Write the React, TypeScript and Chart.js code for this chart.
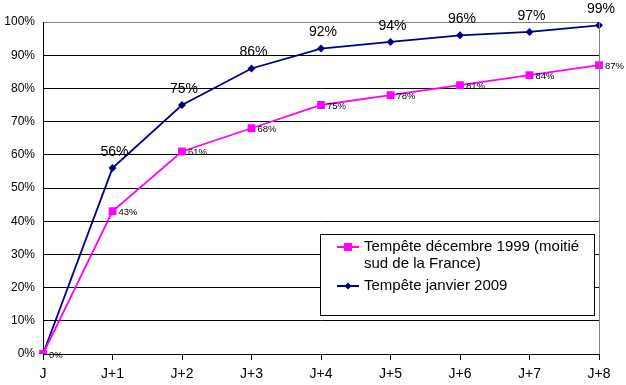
import React, { useEffect, useRef } from "react";
import { Chart, registerables } from "chart.js";

Chart.register(...registerables);

const categories = ["J", "J+1", "J+2", "J+3", "J+4", "J+5", "J+6", "J+7", "J+8"];
const storm1999 = [0, 43, 61, 68, 75, 78, 81, 84, 87];
const storm2009 = [0, 56, 75, 86, 92, 94, 96, 97, 99];
const legend1999 = ["Tempête décembre 1999 (moitié", "sud de la France)"];
const legend2009 = "Tempête janvier 2009";

const PINK = "#FF00FF";
const NAVY = "#000080";
const FONT = "'Liberation Sans', Arial, sans-serif";

const labelsPlugin = {
  id: "customLabels",
  afterDatasetsDraw(chart: any) {
    const ctx = chart.ctx;
    ctx.save();
    const m0 = chart.getDatasetMeta(0);
    ctx.fillStyle = "#000";
    ctx.font = `9.5px ${FONT}`;
    ctx.textAlign = "left";
    ctx.textBaseline = "middle";
    m0.data.forEach((p: any, i: number) => {
      ctx.fillText(storm1999[i] + "%", p.x + 6, p.y + 1);
    });
    const m1 = chart.getDatasetMeta(1);
    ctx.font = `14px ${FONT}`;
    ctx.textAlign = "center";
    m1.data.forEach((p: any, i: number) => {
      if (i === 0) return;
      ctx.fillText(storm2009[i] + "%", p.x + 2, p.y - 16);
    });
    ctx.restore();
  },
  afterDraw(chart: any) {
    const ctx = chart.ctx;
    const a = chart.chartArea;
    ctx.save();
    ctx.strokeStyle = "#808080";
    ctx.lineWidth = 1;
    ctx.beginPath();
    ctx.moveTo(Math.round(a.right) + 0.5, a.top);
    ctx.lineTo(Math.round(a.right) + 0.5, a.bottom);
    ctx.stroke();
    const bx = 320.5, by = 234.5, bw = 274, bh = 81;
    ctx.fillStyle = "#fff";
    ctx.fillRect(bx, by, bw, bh);
    ctx.strokeStyle = "#000";
    ctx.strokeRect(bx, by, bw, bh);
    ctx.font = `15px ${FONT}`;
    ctx.fillStyle = "#000";
    ctx.textAlign = "left";
    ctx.textBaseline = "middle";
    ctx.strokeStyle = PINK;
    ctx.lineWidth = 2;
    ctx.beginPath();
    ctx.moveTo(337, 247);
    ctx.lineTo(359, 247);
    ctx.stroke();
    ctx.fillStyle = PINK;
    ctx.fillRect(344, 243, 8, 8);
    ctx.fillStyle = "#000";
    ctx.fillText(legend1999[0], 364, 247);
    ctx.fillText(legend1999[1], 364, 264);
    ctx.strokeStyle = NAVY;
    ctx.beginPath();
    ctx.moveTo(337, 286);
    ctx.lineTo(359, 286);
    ctx.stroke();
    ctx.fillStyle = NAVY;
    ctx.beginPath();
    ctx.moveTo(348, 282.5);
    ctx.lineTo(351.5, 286);
    ctx.lineTo(348, 289.5);
    ctx.lineTo(344.5, 286);
    ctx.closePath();
    ctx.fill();
    ctx.fillStyle = "#000";
    ctx.fillText(legend2009, 364, 286);
    ctx.restore();
  },
};

export default function App() {
  const ref = useRef<HTMLCanvasElement>(null);
  useEffect(() => {
    document.body.style.margin = "0";
    const chart = new Chart(ref.current!, {
      type: "line",
      data: {
        labels: categories,
        datasets: [
          {
            label: legend1999.join(" "),
            data: storm1999,
            borderColor: PINK,
            backgroundColor: PINK,
            borderWidth: 1.8,
            pointStyle: "rect",
            pointRadius: 5.5,
            pointBorderWidth: 0,
            tension: 0,
          },
          {
            label: legend2009,
            data: storm2009,
            borderColor: NAVY,
            backgroundColor: NAVY,
            borderWidth: 1.8,
            pointStyle: "rectRot",
            pointRadius: 4,
            pointBorderWidth: 0,
            tension: 0,
          },
        ],
      },
      options: {
        animation: false,
        responsive: false,
        devicePixelRatio: 1,
        layout: { padding: { top: 22, right: 27, left: 0, bottom: 0 } },
        plugins: { legend: { display: false }, tooltip: { enabled: false } },
        scales: {
          x: {
            type: "category",
            offset: false,
            afterFit(s: any) {
              s.height = 31;
            },
            grid: {
              drawOnChartArea: false,
              drawTicks: true,
              tickLength: 6,
              color: "#000",
            },
            border: { color: "#000", width: 1 },
            ticks: {
              color: "#000",
              font: { family: FONT, size: 14 },
              padding: 6,
              maxRotation: 0,
              autoSkip: false,
            },
          },
          y: {
            min: 0,
            max: 100,
            afterFit(s: any) {
              s.width = 43;
            },
            grid: {
              drawTicks: false,
              color: (c: any) => (c.tick && c.tick.value === 100 ? "#808080" : "#000"),
              lineWidth: 1,
            },
            border: { color: "#000", width: 1 },
            ticks: {
              stepSize: 10,
              color: "#000",
              font: { family: FONT, size: 12 },
              padding: 8,
              callback: (v: any) => v + "%",
            },
          },
        },
      },
      plugins: [labelsPlugin],
    });
    return () => chart.destroy();
  }, []);
  return (
    <div style={{ width: 626, height: 385 }}>
      <canvas ref={ref} width={626} height={385} style={{ display: "block" }} />
    </div>
  );
}
